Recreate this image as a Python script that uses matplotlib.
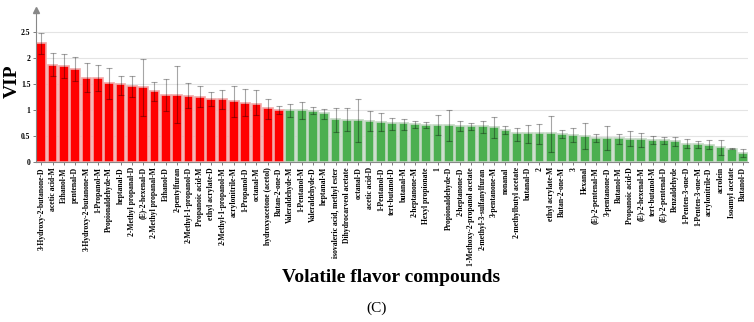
import matplotlib
matplotlib.use("Agg")
import matplotlib.pyplot as plt
import numpy as np

compounds = [
    "3-Hydroxy-2-butanone-D", "acetic acid-M", "Ethanol-M", "pentenal-D",
    "3-Hydroxy-2-butanone-M", "1-Propanol-M", "Propionaldehyde-M", "heptanal-D",
    "2-Methyl propanal-D", "(E)-2-hexenal-D", "2-Methyl propanal-M", "Ethanol-D",
    "2-pentylfuran", "2-Methyl-1-propanol-D", "Propanoic acid-M", "ethyl acrylate-D",
    "2-Methyl-1-propanol-M", "acrylonitrile-M", "1-Propanol-D", "octanal-M",
    "hydroxyacetone (acetol)", "Butan-2-one-D",
    "Valeraldehyde-M", "1-Pentanol-M", "Valeraldehyde-D", "heptanal-M",
    "isovaleric acid, methyl ester", "Dihydrocarveol acetate", "octanal-D", "acetic acid-D",
    "1-Pentanol-D", "tert-butanol-D", "butanal-M", "2-heptanone-M", "Hexyl propionate",
    "1", "Propionaldehyde-D", "2-heptanone-D", "1-Methoxy-2-propanol acetate",
    "2-methyl-3-sulfanylfuran", "3-pentanone-M", "nonanal", "2-methylbutyl acetate",
    "butanal-D", "2", "ethyl acrylate-M", "Butan-2-one-M", "3", "Hexanal",
    "(E)-2-pentenal-M", "3-pentanone-D", "Butanol-M", "Propanoic acid-D",
    "(E)-2-hexenal-M", "tert-butanol-M", "(E)-2-pentenal-D", "Benzaldehyde",
    "1-Penten-3-one-D", "1-Penten-3-one-M", "acrylonitrile-D", "acrolein",
    "Isoamyl acetate", "Butanol-D",
]

vip = [
    2.28, 1.87, 1.85, 1.78, 1.62, 1.62, 1.51, 1.49, 1.46, 1.44, 1.36, 1.29,
    1.28, 1.27, 1.25, 1.21, 1.21, 1.17, 1.13, 1.12, 1.03, 0.99,
    1.00, 0.99, 0.97, 0.93, 0.82, 0.81, 0.80, 0.78, 0.76, 0.74, 0.74, 0.72,
    0.71, 0.71, 0.70, 0.69, 0.69, 0.68, 0.66, 0.61, 0.56, 0.55, 0.55, 0.55,
    0.54, 0.51, 0.50, 0.46, 0.45, 0.45, 0.43, 0.43, 0.42, 0.41, 0.39, 0.35,
    0.34, 0.33, 0.28, 0.25, 0.17,
]

err_upper = [
    2.48, 2.10, 2.08, 2.01, 1.91, 1.87, 1.81, 1.65, 1.65, 1.99, 1.54, 1.60,
    1.84, 1.51, 1.46, 1.35, 1.39, 1.46, 1.41, 1.38, 1.21, 1.07,
    1.11, 1.15, 1.05, 1.02, 1.04, 1.03, 1.21, 0.97, 0.94, 0.85, 0.83, 0.78,
    0.76, 0.90, 1.00, 0.78, 0.75, 0.78, 0.86, 0.69, 0.64, 0.71, 0.73, 0.89,
    0.62, 0.65, 0.75, 0.54, 0.69, 0.54, 0.59, 0.56, 0.50, 0.48, 0.48, 0.43,
    0.39, 0.41, 0.41, 0.27, 0.24,
]

err_lower = [
    2.07, 1.65, 1.62, 1.56, 1.35, 1.37, 1.20, 1.28, 1.24, 0.88, 1.17, 0.97,
    0.75, 1.04, 1.06, 1.07, 1.01, 0.87, 0.88, 0.90, 0.82, 0.92,
    0.86, 0.82, 0.91, 0.83, 0.57, 0.59, 0.38, 0.59, 0.59, 0.62, 0.62, 0.64,
    0.64, 0.52, 0.40, 0.59, 0.61, 0.55, 0.45, 0.54, 0.39, 0.36, 0.35, 0.19,
    0.45, 0.38, 0.25, 0.38, 0.22, 0.35, 0.30, 0.29, 0.35, 0.35, 0.30, 0.27,
    0.27, 0.24, 0.13, 0.24, 0.08,
]

n_red = 22
yticks = [0, 0.5, 1, 1.5, 2, 2.5]
ytick_labels = ["0", "0.5", "1", "1.5", "2", "2.5"]

serif = ["Liberation Serif", "DejaVu Serif"]

fig = plt.figure(figsize=(7.54, 3.22), dpi=100)
ax = fig.add_axes([0.0477, 0.498, 0.945, 0.47])

x = np.arange(len(compounds))
vip_a = np.array(vip)
colors = ["#ff0000" if i < n_red else "#4caf50" for i in range(len(vip))]
edges = ["#f2a8a8" if i < n_red else "#c4d8c4" for i in range(len(vip))]

ax.set_axisbelow(True)
ax.yaxis.grid(True, color="#e4e4e4", linewidth=0.8)
ax.bar(x, vip_a, width=0.86, color=colors, edgecolor=edges, linewidth=1.2, zorder=2)

yerr = np.vstack([vip_a - np.array(err_lower), np.array(err_upper) - vip_a])
ax.errorbar(x, vip_a, yerr=yerr, fmt="none", ecolor="black", alpha=0.35,
            elinewidth=0.8, capsize=2.5, capthick=0.8, zorder=3)

ax.set_xlim(-0.47, len(x) - 0.53)
ax.set_ylim(0, 2.92)
ax.set_yticks(yticks)
ax.set_yticklabels(ytick_labels, fontfamily=serif, fontweight="bold", fontsize=5.5)
ax.set_xticks(x)
ax.set_xticklabels(compounds, rotation=90, fontfamily=serif, fontweight="bold", fontsize=5.5)
ax.tick_params(axis="x", length=2, width=0.6, color="#666666", pad=2)
ax.tick_params(axis="y", length=2, width=0.6, color="#666666", pad=2)

for s in ["top", "right"]:
    ax.spines[s].set_visible(False)
ax.spines["left"].set_color("#888888")
ax.spines["bottom"].set_color("#888888")
ax.spines["left"].set_linewidth(0.8)
ax.spines["bottom"].set_linewidth(0.8)
ax.plot([0], [1], marker="^", color="#888888", markersize=4,
        transform=ax.transAxes, clip_on=False)

fig.text(12 / 754, 1 - 81 / 322, "VIP", rotation=90, ha="center", va="center",
         fontfamily=serif, fontweight="bold", fontsize=14)

fig.text(0.519, 1 - 278 / 322, "Volatile flavor compounds", ha="center", va="center",
         fontfamily=serif, fontweight="bold", fontsize=14)
fig.text(0.5, 1 - 308 / 322, "(C)", ha="center", va="center",
         fontfamily=serif, fontsize=11)

fig.savefig("out.png", dpi=100)
